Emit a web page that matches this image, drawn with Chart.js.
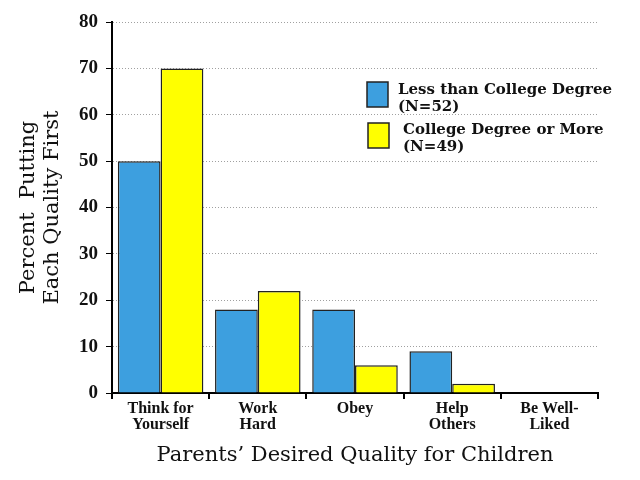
<!DOCTYPE html>
<html>
<head>
<meta charset="utf-8">
<script src="https://cdn.jsdelivr.net/npm/chart.js@4/dist/chart.umd.min.js"></script>
<style>
  html, body { margin: 0; padding: 0; background: #fff; }
  #wrap { width: 640px; height: 480px; }
</style>
</head>
<body>
<div id="wrap"><canvas id="chart" width="640" height="480"></canvas></div>
<script>
// categories and values
const categories = [["Think for", "Yourself"], ["Work", "Hard"], ["Obey"], ["Help", "Others"], ["Be Well-", "Liked"]];
const lessThanCollege = [50, 18, 18, 9, 0];
const collegeOrMore = [70, 22, 6, 2, 0];
const seriesLabels = [["Less than College Degree", "(N=52)"], ["College Degree or More", "(N=49)"]];
const yTicks = [0, 10, 20, 30, 40, 50, 60, 70, 80];

const BLUE = '#3d9fdf';
const YELLOW = '#ffff00';

// legend drawn inside the plot, boxes with two-line labels
const boxLegend = {
  id: 'boxLegend',
  afterDraw(chart, args, opts) {
    const ctx = chart.ctx;
    ctx.save();
    ctx.font = opts.font;
    ctx.textBaseline = 'alphabetic';
    chart.data.datasets.forEach((ds, i) => {
      const it = opts.items[i];
      ctx.fillStyle = ds.backgroundColor;
      ctx.strokeStyle = '#222';
      ctx.lineWidth = 1.5;
      ctx.fillRect(it.x, it.y, 21, 25);
      ctx.strokeRect(it.x, it.y, 21, 25);
      ctx.fillStyle = '#111';
      seriesLabels[i].forEach((line, j) => {
        ctx.fillText(line, it.tx, it.ty + j * 17);
      });
    });
    ctx.restore();
  }
};

new Chart(document.getElementById('chart'), {
  type: 'bar',
  data: {
    labels: categories,
    datasets: [
      { label: seriesLabels[0].join(' '), data: lessThanCollege, backgroundColor: BLUE, borderColor: '#222', borderWidth: 1.5 },
      { label: seriesLabels[1].join(' '), data: collegeOrMore, backgroundColor: YELLOW, borderColor: '#222', borderWidth: 1.5 }
    ]
  },
  options: {
    responsive: false,
    animation: false,
    layout: { padding: { top: 22, right: 42, left: 0, bottom: 8 } },
    datasets: { bar: { categoryPercentage: 0.88, barPercentage: 1.0 } },
    plugins: {
      legend: { display: false },
      tooltip: { enabled: false },
      boxLegend: {
        font: 'bold 15px "DejaVu Serif"',
        items: [
          { x: 367, y: 82, tx: 398, ty: 94 },
          { x: 368, y: 123, tx: 403, ty: 134 }
        ]
      }
    },
    scales: {
      x: {
        afterFit(s) { s.height = 79; },
        grid: { offset: true, drawOnChartArea: false, color: '#000', tickLength: 6, lineWidth: 2 },
        border: { color: '#000', width: 2 },
        ticks: { color: '#111', font: { family: 'Liberation Serif', weight: 'bold', size: 16, lineHeight: 1.0 }, padding: 2, maxRotation: 0, autoSkip: false },
        title: { display: true, text: 'Parents\u2019 Desired Quality for Children', color: '#111', font: { family: 'DejaVu Serif', size: 21 }, padding: { top: 0 } }
      },
      y: {
        min: 0,
        max: 80,
        afterFit(s) { s.width = 112; },
        afterBuildTicks(s) { s.ticks = yTicks.map(v => ({ value: v })); },
        grid: { color: '#a0a0a0', lineWidth: 1, tickColor: '#000', tickLength: 6 },
        border: { color: '#000', width: 2, dash: [1, 2] },
        ticks: { color: '#111', font: { family: 'Liberation Serif', weight: 'bold', size: 19 }, padding: 8 },
        title: { display: true, text: ['Percent  Putting', 'Each Quality First'], color: '#111', font: { family: 'DejaVu Serif', size: 21, lineHeight: 1.15 }, padding: { top: 16, bottom: 0 } }
      }
    }
  },
  plugins: [boxLegend]
});
</script>
</body>
</html>
